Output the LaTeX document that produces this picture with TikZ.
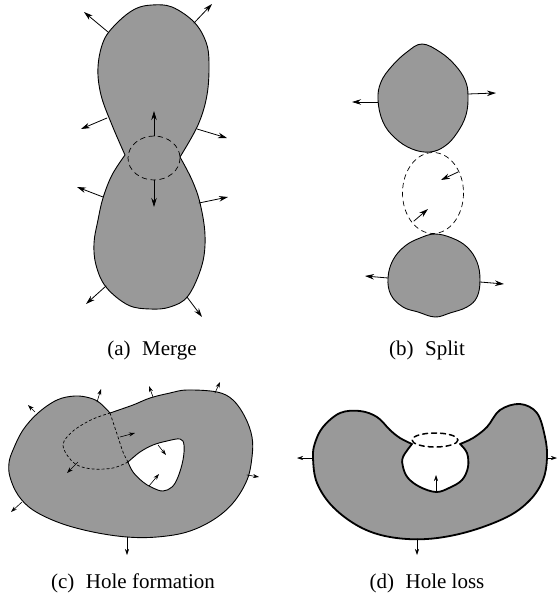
\documentclass[tikz,border=0pt]{standalone}
\usepackage{fontspec}
\setmainfont{Liberation Serif}
\newfontfamily\capfont{Liberation Serif}
\usetikzlibrary{arrows.meta}
\definecolor{ink}{HTML}{000000}
\definecolor{blobcol}{HTML}{999999}

\begin{document}
\begin{tikzpicture}[x=1pt, y=-1pt,
  line cap=round, line join=round,
  blob/.style={draw=ink, fill=blobcol, line width=0.9pt},
  rim/.style={draw=ink, dash pattern=on 5pt off 4pt, line width=0.7pt},
  seam/.style={draw=ink, dash pattern=on 2.5pt off 2.5pt, line width=0.7pt},
  push/.style={-{Stealth[length=9pt,width=5.5pt]}, ink, line width=0.8pt},
  nudge/.style={-{Stealth[length=6pt,width=4pt]}, ink, line width=0.6pt},
  subcap/.style={font=\capfont\fontsize{21}{25}\selectfont, anchor=base}]
\useasboundingbox (0,0) rectangle (558,597);

% ================================================================ (a) merge
\draw[blob] plot[smooth, tension=0.6] coordinates {(125,155) (112,125) (101,95)
    (98,67) (104,40) (118,22) (135,9) (152,5) (172,7) (194,22) (206,42) (209,63)
    (207,95) (198,125) (180,157)}
  -- plot[smooth, tension=0.6] coordinates {(180,157) (192,180) (200,203)
    (205,235) (202,265) (188,296) (170,307) (150,309) (128,305) (106,287)
    (96,265) (94,243) (98,220) (103,198) (112,175) (125,155)} -- cycle;
\draw[rim] (154,158) ellipse [x radius=26, y radius=22];
\foreach \xa/\ya/\xb/\yb in {108/32/84/12, 194/23/212/4, 107/118/81/129,
                   197/129/227/138, 103/197/77/187, 199/203/228/197,
                   106/286/86/304, 187/297/202/317,
                   154/136/154/111, 154/180/154/207}
  \draw[push] (\xa,\ya) -- (\xb,\yb);
\node[subcap] (capMerge) at (152,355) {(a)\hspace{0.55em}Merge};

% ================================================================ (b) split
\draw[blob] plot[smooth cycle, tension=0.65] coordinates {(422,44) (440,52)
    (455,65) (465,80) (468,95) (466,115) (457,133) (445,146) (430,152) (412,149)
    (395,138) (383,122) (378,100) (381,82) (392,66) (407,52)};
\draw[blob] plot[smooth cycle, tension=0.65] coordinates {(435,234) (452,238)
    (467,247) (477,262) (480,280) (477,297) (467,307) (450,313) (435,317)
    (418,312) (403,307) (391,295) (388,278) (393,260) (405,246) (420,238)};
\draw[rim] (433,193) ellipse [x radius=30.5, y radius=40.5];
\foreach \xa/\ya/\xb/\yb in {378/102/352/102, 468/94/496/93, 458/172/441/180,
                   414/221/428/209, 388/278/365/276, 480/282/504/284}
  \draw[push] (\xa,\ya) -- (\xb,\yb);
\node[subcap] (capSplit) at (427,355) {(b)\hspace{0.55em}Split};

% ================================================================ (c) hole formation
\draw[blob, even odd rule] plot[smooth, tension=0.6] coordinates {(110,413)
    (133,405) (150,398) (170,393) (187,390) (217,392) (233,400) (245,417)
    (252,437) (252,457) (247,480) (233,503) (213,520) (187,532) (157,537)
    (127,537) (93,532) (60,523) (33,510) (18,495) (10,477) (9,463) (13,450)
    (23,430) (38,413) (57,400) (75,396) (90,398) (100,403) (110,413)} -- cycle
  plot[smooth, tension=0.6] coordinates {(128,462) (140,452) (153,445)
    (167,441) (180,439) (184,445) (183,460) (178,477) (172,487) (163,491)
    (153,488) (143,482) (133,472) (128,462)} -- cycle;
\draw[seam] plot[smooth, tension=0.6] coordinates {(110,413) (113,422) (118,437)
    (123,452) (128,462)};
\draw[seam] plot[smooth, tension=0.6] coordinates {(128,462) (113,468) (93,469)
    (77,465) (67,455) (63,445) (67,437) (77,428) (93,419) (110,413)};
\foreach \xa/\ya/\xb/\yb in {35/412/28/405, 97/402/101/389, 153/397/149/386,
                   215/393/220/382, 247/475/259/477, 127/537/127/555,
                   22/502/11/512, 120/437/135/433, 78/462/67/473,
                   158/445/166/455, 149/486/159/474}
  \draw[nudge] (\xa,\ya) -- (\xb,\yb);
\node[subcap] (capForm) at (133,588) {(c)\hspace{0.55em}Hole formation};

% ================================================================ (d) hole loss
\draw[blob, line width=1.8pt] plot[smooth, tension=0.6] coordinates {(412,444)
    (400,438) (390,430) (377,417) (360,411) (340,413) (323,427) (315,443)
    (313,458) (317,483) (333,507) (360,527) (390,537) (427,539) (467,532)
    (507,517) (530,500) (543,480) (547,458) (545,437) (537,413) (520,404)
    (500,410) (487,427) (473,438) (460,444)}
  -- plot[smooth, tension=0.6] coordinates {(460,444) (467,453) (468,467)
    (462,480) (449,488) (436,492) (420,487) (408,478) (403,467) (403,457)
    (412,444)} -- cycle;
\draw[rim, line width=1.5pt] (435,440) ellipse [x radius=23, y radius=7];
\foreach \xa/\ya/\xb/\yb in {313/458/297/458, 547/458/557/458, 417/539/417/555,
                   436/492/436/475}
  \draw[nudge] (\xa,\ya) -- (\xb,\yb);
\node[subcap] (capLoss) at (427,588) {(d)\hspace{0.55em}Hole loss};

\end{tikzpicture}
\end{document}
